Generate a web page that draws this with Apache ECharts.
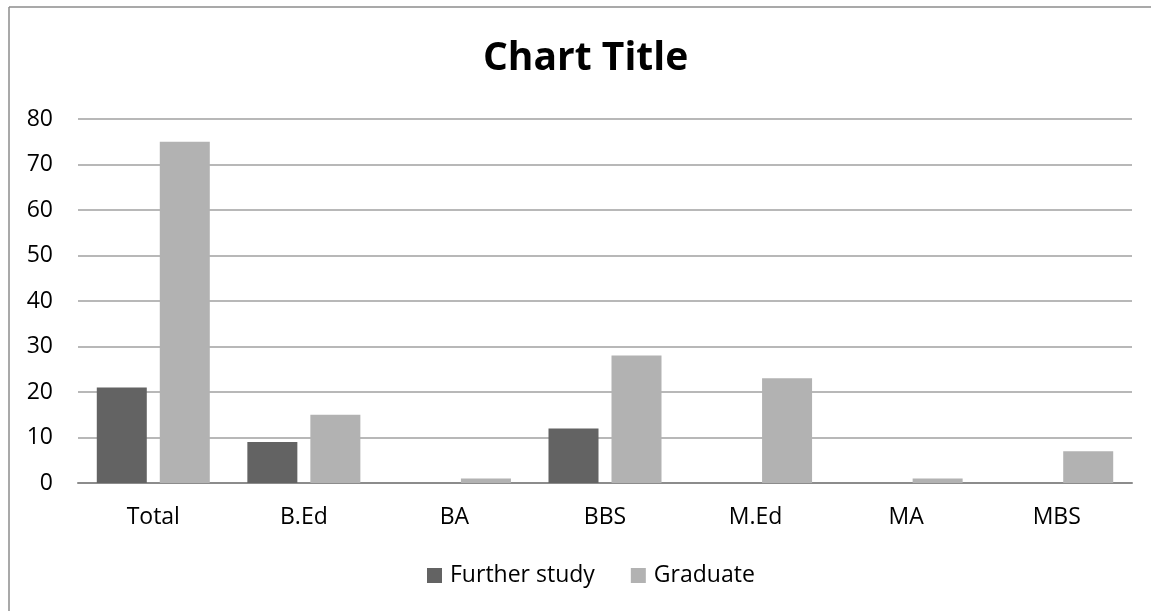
<!DOCTYPE html>
<html>
<head>
<meta charset="utf-8">
<script src="https://cdn.jsdelivr.net/npm/echarts@6/dist/echarts.min.js"></script>
<style>
  html, body { margin: 0; padding: 0; background: #fff; }
  #chart { width: 1151px; height: 611px; }
</style>
</head>
<body>
<div id="chart"></div>
<script>
// Programme categories along the x axis
const categories = ['Total', 'B.Ed', 'BA', 'BBS', 'M.Ed', 'MA', 'MBS'];
// Counts per programme
const furtherStudy = [21, 9, 0, 12, 0, 0, 0];
const graduate = [75, 15, 1, 28, 23, 1, 7];
// Value axis ticks
const yTicks = [0, 10, 20, 30, 40, 50, 60, 70, 80];

const FONT = '"Open Sans", Lato, sans-serif';

const chart = echarts.init(document.getElementById('chart'));
chart.setOption({
  animation: false,
  backgroundColor: '#ffffff',
  title: {
    text: 'Chart Title',
    left: 478,
    top: 34,
    textStyle: { fontFamily: FONT, fontSize: 39, fontWeight: 'bold', color: '#000' }
  },
  legend: {
    bottom: 19,
    left: 422,
    itemWidth: 15,
    itemHeight: 15,
    itemGap: 36,
    icon: 'rect',
    textStyle: { fontFamily: FONT, fontSize: 23, color: '#000', padding: [0, 0, 0, 3] },
    data: ['Further study', 'Graduate']
  },
  grid: { left: 78, right: 19, top: 119, bottom: 128, containLabel: false },
  xAxis: {
    type: 'category',
    data: categories,
    axisTick: { show: false },
    axisLine: { lineStyle: { color: '#8c8c8c', width: 2 } },
    axisLabel: { fontFamily: FONT, fontSize: 23, color: '#000', margin: 23 }
  },
  yAxis: {
    type: 'value',
    min: yTicks[0],
    max: yTicks[yTicks.length - 1],
    interval: yTicks[1] - yTicks[0],
    axisLine: { show: false },
    axisTick: { show: false },
    splitLine: { lineStyle: { color: '#a0a0a0', width: 1.5 } },
    axisLabel: { fontFamily: FONT, fontSize: 23, color: '#000', margin: 25 }
  },
  series: [
    {
      name: 'Further study',
      type: 'bar',
      data: furtherStudy,
      barWidth: 50,
      barGap: '26%',
      itemStyle: { color: '#636363' }
    },
    {
      name: 'Graduate',
      type: 'bar',
      data: graduate,
      barWidth: 50,
      barGap: '26%',
      itemStyle: { color: '#b2b2b2' }
    }
  ],
  graphic: [
    { type: 'line', shape: { x1: 9, y1: 7, x2: 1151, y2: 7 }, style: { stroke: '#8c8c8c', lineWidth: 1.5 } },
    { type: 'line', shape: { x1: 9, y1: 7, x2: 9, y2: 611 }, style: { stroke: '#8c8c8c', lineWidth: 1.5 } }
  ]
});
</script>
</body>
</html>
